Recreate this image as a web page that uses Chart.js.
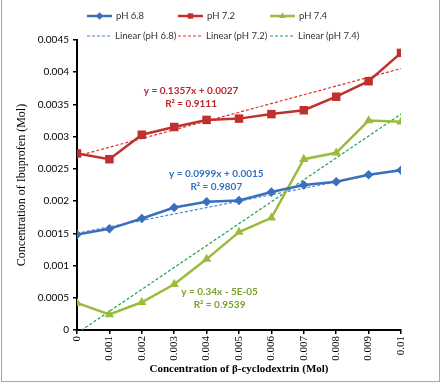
<!DOCTYPE html>
<html>
<head>
<meta charset="utf-8">
<script src="https://cdn.jsdelivr.net/npm/chart.js@4/dist/chart.umd.min.js"></script>
<style>
  body { margin: 0; background: #fff; }
  #wrap { position: relative; width: 444px; height: 391px; }
  #frame {
    position: absolute; left: 1px; top: -2px; width: 439px; height: 384px;
    border: 1px solid #a6a6a6; border-top: none; box-sizing: border-box;
  }
  canvas { position: absolute; left: 0; top: 0; }
</style>
</head>
<body>
<div id="wrap">
  <div id="frame"></div>
  <canvas id="chart" width="444" height="391"></canvas>
</div>
<script>
// values
const xValues = [0, 0.001, 0.002, 0.003, 0.004, 0.005, 0.006, 0.007, 0.008, 0.009, 0.01];
const xTickLabels = ["0", "0.001", "0.002", "0.003", "0.004", "0.005", "0.006", "0.007", "0.008", "0.009", "0.01"];
const yTickLabels = ["0", "0.0005", "0.001", "0.0015", "0.002", "0.0025", "0.003", "0.0035", "0.004", "0.0045"];

const ph68 = [0.00148, 0.00157, 0.00173, 0.0019, 0.00199, 0.00201, 0.00214, 0.00225, 0.0023, 0.00241, 0.00248];
const ph72 = [0.00274, 0.00265, 0.00303, 0.00315, 0.00326, 0.00328, 0.00335, 0.00341, 0.00362, 0.00386, 0.0043];
const ph74 = [0.00042, 0.00024, 0.00043, 0.00071, 0.0011, 0.00152, 0.00174, 0.00265, 0.00275, 0.00325, 0.00323];

// linear trendlines, end points at x = 0 and x = 0.01
const trendX = [0, 0.01];
const trend68 = [0.0015, 0.002499];
const trend72 = [0.0027, 0.004057];
const trend74 = [-0.00005, 0.00335];

const seriesLabels = ["pH 6.8", "pH 7.2", "pH 7.4"];
const trendLabels = ["Linear (pH 6.8)", "Linear (pH 7.2)", "Linear (pH 7.4)"];
const equationLines = [
  ["y = 0.0999x + 0.0015", "R² = 0.9807"],
  ["y = 0.1357x + 0.0027", "R² = 0.9111"],
  ["y = 0.34x - 5E-05", "R² = 0.9539"]
];
// where each equation sits, in data units
const equationX = [0.0043, 0.00352, 0.0044];
const equationY = [0.00242, 0.00371, 0.00059];

const colors = ["#3a6fbf", "#c0302e", "#9bbb3c"];
const trendColors = ["#4a86d0", "#e0302c", "#17a34a"];
const labelColors = ["#2f72c0", "#b8282c", "#76a12b"];
const pointStyles = ["rectRot", "rect", "triangle"];
const pointSizes = [4.8, 6, 5.4];

function toPoints(xs, ys) {
  return xs.map((x, i) => ({ x: x, y: ys[i] }));
}

const seriesData = [ph68, ph72, ph74];
const trendData = [trend68, trend72, trend74];

const datasets = [];
seriesData.forEach((vals, i) => {
  datasets.push({
    label: seriesLabels[i],
    data: toPoints(xValues, vals),
    borderColor: colors[i],
    backgroundColor: colors[i],
    borderWidth: 2.5,
    pointStyle: pointStyles[i],
    pointRadius: pointSizes[i],
    pointBorderWidth: 0,
    pointBackgroundColor: colors[i],
    tension: 0,
    order: 1
  });
});
trendData.forEach((vals, i) => {
  datasets.push({
    label: trendLabels[i],
    data: toPoints(trendX, vals),
    borderColor: trendColors[i],
    borderWidth: 1.2,
    borderDash: [3, 2],
    pointRadius: 0,
    tension: 0,
    order: 2
  });
});

const legendAndLabels = {
  id: "legendAndLabels",
  afterDatasetsDraw(chart) {
    const ctx = chart.ctx;
    const xs = chart.scales.x;
    const ys = chart.scales.y;
    ctx.save();
    // equations
    ctx.font = "bold 10px Lato";
    ctx.textAlign = "center";
    ctx.textBaseline = "middle";
    equationLines.forEach((lines, i) => {
      const px = xs.getPixelForValue(equationX[i]);
      const py = ys.getPixelForValue(equationY[i]);
      ctx.fillStyle = labelColors[i];
      ctx.fillText(lines[0], px, py);
      ctx.fillText(lines[1], px, py + 12.5);
    });
    ctx.restore();
  },
  afterDraw(chart) {
    const ctx = chart.ctx;
    ctx.save();
    const colX = [87, 178, 270];
    const rowY = [16, 36];
    ctx.font = "9.5px Lato";
    ctx.textAlign = "left";
    ctx.textBaseline = "middle";
    for (let i = 0; i < 3; i++) {
      // series row
      ctx.strokeStyle = colors[i];
      ctx.lineWidth = 2.5;
      ctx.setLineDash([]);
      ctx.beginPath();
      ctx.moveTo(colX[i], rowY[0]);
      ctx.lineTo(colX[i] + 25, rowY[0]);
      ctx.stroke();
      ctx.fillStyle = colors[i];
      Chart.helpers.drawPoint(ctx, { pointStyle: pointStyles[i], radius: 3.8, rotation: 0, borderWidth: 0 }, colX[i] + 12.5, rowY[0]);
      ctx.fillStyle = "#333";
      ctx.fillText(seriesLabels[i], colX[i] + 29, rowY[0]);
      // trendline row
      ctx.strokeStyle = trendColors[i];
      ctx.lineWidth = 1.1;
      ctx.setLineDash([3, 2]);
      ctx.beginPath();
      ctx.moveTo(colX[i], rowY[1]);
      ctx.lineTo(colX[i] + 25, rowY[1]);
      ctx.stroke();
      ctx.setLineDash([]);
      ctx.fillStyle = "#333";
      ctx.fillText(trendLabels[i], colX[i] + 28, rowY[1]);
    }
    ctx.restore();
  }
};

new Chart(document.getElementById("chart").getContext("2d"), {
  type: "line",
  data: { datasets: datasets },
  options: {
    responsive: false,
    animation: false,
    devicePixelRatio: 1,
    layout: { padding: { left: 3, right: 43, top: 40, bottom: 13 } },
    plugins: {
      legend: { display: false },
      tooltip: { enabled: false }
    },
    scales: {
      x: {
        type: "linear",
        min: 0,
        max: 0.01,
        afterFit: (scale) => { scale.height = 48; },
        border: { display: true, color: "#000", width: 2 },
        grid: { display: true, drawOnChartArea: false, drawTicks: true, tickLength: 4, color: "#000", lineWidth: 1.5 },
        ticks: {
          stepSize: 0.001,
          minRotation: 90,
          maxRotation: 90,
          padding: 2,
          color: "#000",
          font: { family: "Liberation Serif", size: 11 },
          callback: (v) => xTickLabels[Math.round(v / 0.001)]
        },
        title: {
          display: true,
          text: "Concentration of β-cyclodextrin (Mol)",
          color: "#000",
          font: { family: "Liberation Serif", size: 11, weight: "bold" },
          padding: { top: 2, bottom: 2 }
        }
      },
      y: {
        min: 0,
        max: 0.0045,
        afterFit: (scale) => { scale.width = 74; },
        border: { display: true, color: "#000", width: 2 },
        grid: { display: true, drawOnChartArea: false, drawTicks: true, tickLength: 4, color: "#000", lineWidth: 1.5 },
        ticks: {
          stepSize: 0.0005,
          padding: 4,
          color: "#000",
          font: { family: "Lato", size: 10 },
          callback: (v) => yTickLabels[Math.round(v / 0.0005)]
        },
        title: {
          display: true,
          text: "Concentration of Ibuprofen (Mol)",
          color: "#000",
          font: { family: "Liberation Serif", size: 12 },
          padding: { top: 12, bottom: 0 }
        }
      }
    }
  },
  plugins: [legendAndLabels]
});
</script>
</body>
</html>
